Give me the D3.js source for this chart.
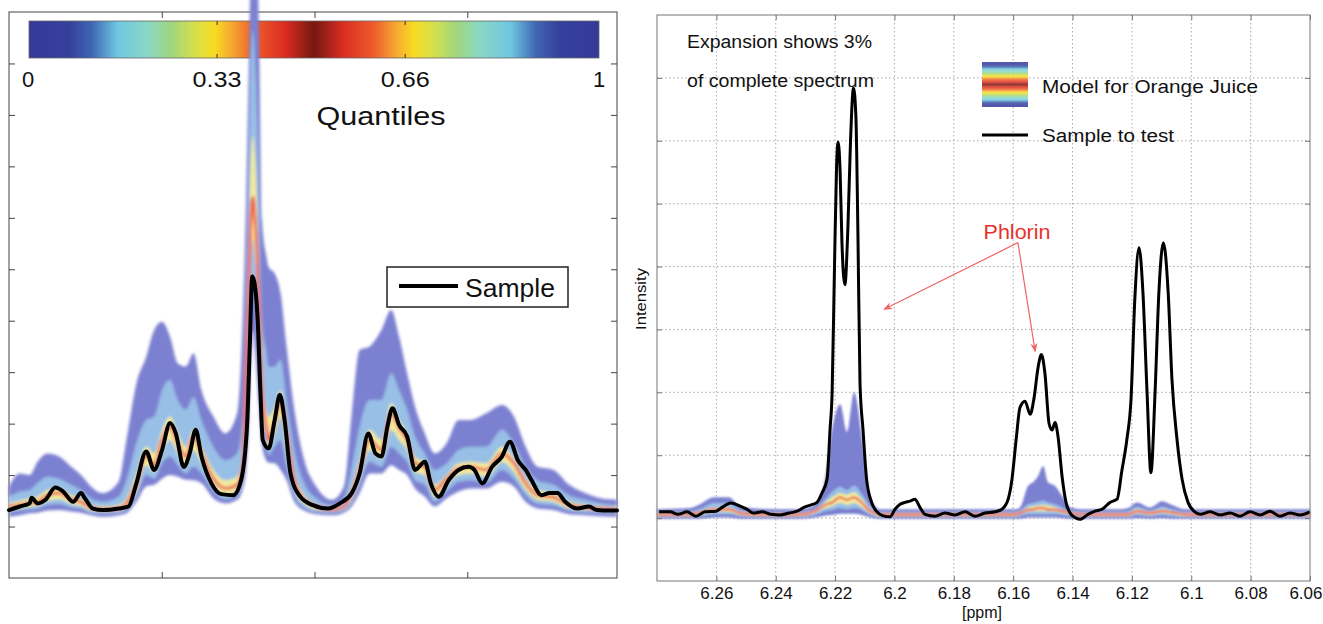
<!DOCTYPE html>
<html>
<head>
<meta charset="utf-8">
<script src="https://cdnjs.cloudflare.com/ajax/libs/d3/7.8.5/d3.min.js"></script>
<style>
html, body { margin: 0; padding: 0; background: #fff; }
svg { display: block; }
text { font-family: "Liberation Sans", Arial, Helvetica, sans-serif; fill: #111; }
</style>
</head>
<body>
<svg id="chart" width="1323" height="624"></svg>
<script>
// ---------- Left panel: spectral region with quantile model ----------
const leftGridX = [0,7,13.5,18.7,25.1,32.9,40.7,47.1,53.6,61.4,71.7,76.9,83.4,89.8,95.0,100.2,105.4,110.5,115.7,120.8,126.0,133.8,141.6,149.3,153.2,155.2,157.1,158.4,159.7,161.0,162.4,163.7,165.6,168.3,170.0,173.9,177.8,181.7,186.8,193.3,201.1,211.4,219.2,224.4,229.5,236.0,243.8,250.2,255.4,260.6,265.8,272.2,278.7,286.5,294.3,302.0,312.4,322.7,330.5,338.2,346.0,356.4,366.7,377.1,387.4,398];
const leftQ100 = [17.8,20.3,20.0,22.6,24.2,23.6,21.6,20.0,17.8,16.5,18.7,26.8,37.8,43.0,48.2,49.8,46.9,41.7,41.1,43.7,36.5,31.4,28.1,32.0,52.1,73.5,100.7,120.1,120.1,120.1,120.1,104.6,69.6,62.8,60.4,59.2,55.3,45.0,32.7,22.9,17.8,15.2,17.8,32.0,44.3,45.0,48.2,52.1,46.9,39.8,33.3,28.1,24.2,26.2,30.7,30.7,32.0,33.6,31.4,25.5,21.6,21.0,18.1,16.5,15.5,15.2];
const leftQ85 = [15.8,16.8,17.1,18.4,19.7,19.3,18.1,17.1,15.5,14.8,15.8,19.0,26.2,30.7,31.4,36.5,38.5,34.6,32.7,35.2,30.7,25.5,22.9,24.2,32.0,56.0,81.2,100.7,106.5,100.7,89.0,71.5,50.1,44.3,41.0,41.1,42.4,34.6,24.9,18.4,15.5,14.2,15.5,21.6,29.4,34.6,34.6,39.8,36.5,32.7,27.5,24.2,21.0,22.3,24.9,25.5,25.5,28.8,26.2,21.6,19.0,18.1,16.1,15.2,14.5,14.2];
const leftQ70 = [14.5,15.0,15.5,15.8,17.1,17.4,16.1,15.5,14.2,13.9,14.2,15.5,20.3,25.5,24.2,28.8,31.4,28.1,25.5,28.8,25.5,21.0,19.0,19.7,24.2,46.3,66.0,82.0,86.0,82.0,72.0,57.9,40.4,32.7,31.3,33.3,36.5,29.4,20.3,16.1,14.3,13.5,14.2,17.8,22.9,28.8,26.8,34.0,30.7,28.1,23.6,22.3,18.1,20.0,22.3,22.6,22.3,25.5,23.2,19.3,17.1,16.5,14.8,14.2,13.9,13.7];
const leftQ50 = [13.9,14.2,14.6,14.8,16.1,16.5,15.3,14.8,13.7,13.3,13.5,14.5,18.4,23.9,21.9,26.8,29.4,26.2,23.6,27.5,24.2,19.3,17.4,18.1,22.3,40.4,58.0,70.0,74.0,70.0,63.0,52.1,36.5,29.7,26.8,30.4,34.6,28.1,19.0,15.2,13.9,13.3,13.9,16.5,21.0,26.8,24.9,32.0,29.1,26.8,22.3,21.6,17.1,19.3,21.3,21.6,21.0,24.2,22.3,18.4,16.1,15.7,14.2,13.7,13.5,13.3];
const leftQ30 = [13.2,13.5,13.9,14.0,15.0,15.3,14.4,14.0,13.1,12.9,13.1,13.9,16.8,21.9,20.6,24.5,26.8,24.2,21.9,24.9,22.3,18.1,16.1,17.1,20.3,34.6,52.0,62.0,66.0,62.0,57.0,46.3,32.7,27.8,25.3,28.1,31.4,24.9,17.4,14.4,13.3,13.0,13.5,15.5,19.3,24.9,23.2,28.8,26.8,24.9,20.6,20.0,15.8,18.1,20.0,20.3,19.7,22.6,20.6,17.1,15.2,14.8,13.5,13.2,13.1,13.0];
const leftQ15 = [12.7,13.1,13.3,13.5,14.2,14.4,13.7,13.5,12.7,12.6,12.7,13.3,15.8,20.0,19.3,22.3,23.6,21.9,20.3,21.6,20.3,16.8,15.3,16.1,19.0,28.8,44.3,55.0,58.0,55.0,50.0,40.4,29.7,25.9,23.9,25.5,26.8,21.6,16.1,13.7,12.9,12.7,13.1,14.6,18.1,22.6,21.6,25.5,24.2,22.6,19.0,18.1,14.8,16.8,18.7,19.0,18.5,21.0,19.3,16.1,14.4,14.1,13.1,12.8,12.7,12.6];
const leftQ0 = [11.9,12.2,12.6,12.7,13.1,13.2,12.9,12.7,12.2,11.9,12.2,12.6,14.8,17.8,18.1,19.3,20.0,19.7,19.1,19.0,18.4,15.5,14.5,15.2,17.4,21.0,30.7,42.4,48.2,44.3,38.5,32.7,25.9,22.9,22.4,22.3,21.0,19.0,14.8,13.1,12.4,12.2,12.7,13.9,16.5,20.3,20.3,21.9,21.0,20.0,17.4,15.8,13.9,15.5,16.8,17.4,17.4,18.7,17.8,14.8,13.5,13.2,12.4,12.2,12.0,11.9];

const leftSampleX = [0,7.0,13.5,14.8,18.7,23.9,30.3,35.5,42.0,47.1,49.7,54.9,61.4,71.7,78.2,83.4,89.8,95.0,100.2,105.4,109.2,114.4,118.3,122.2,126.0,132.5,139.0,146.8,151.9,155.8,157.6,159.2,160.6,162.8,164.6,166.1,170.0,173.9,177.3,180.4,184.3,190.7,198.5,208.8,216.6,224.4,229.5,235.2,239.9,243.8,247.7,251.0,255.4,260.6,265.8,272.2,276.1,281.3,287.8,294.3,300.7,304.6,309.8,316.2,322.7,327.9,333.1,338.2,342.1,348.6,353.8,359.0,364.1,371.9,379.7,384.8,392.6,398];
const leftSampleY = [13.2,13.9,14.5,15.6,14.5,15.2,17.6,16.8,14.8,16.5,15.5,13.5,13.2,13.5,13.9,18.4,24.6,21.0,24.9,30.1,28.1,21.6,24.2,28.8,23.6,18.4,16.3,16.1,19.0,29.4,45.0,58.6,57.5,50.1,36.0,26.8,25.2,30.7,35.6,30.7,20.3,15.8,14.2,13.5,14.5,16.5,20.3,28.1,24.2,23.6,29.4,33.0,29.7,27.5,21.0,22.6,18.4,15.8,19.0,21.0,21.6,21.0,18.4,21.6,23.6,26.5,22.9,21.0,19.0,16.1,16.5,16.5,14.8,13.5,13.9,13.2,13.1,13.1];

const leftXTicks = [100, 200, 300];
const leftYTicks = [10, 20, 30, 40, 50, 60, 70, 80, 90, 100];

// Quantile colour scale (symmetric jet)
const colorbarStops  = [0, 0.07, 0.11, 0.155, 0.21, 0.25, 0.29, 0.325, 0.36, 0.395, 0.45, 0.5, 0.55, 0.605, 0.64, 0.675, 0.71, 0.75, 0.79, 0.845, 0.89, 0.93, 1];
const colorbarColors = ["#35399a","#35409c","#3f66b2","#6fc6e2","#8ad8c4","#a0d67c","#d4e04c","#f8dc22","#f6a032","#ee5c2a","#da2c22","#741810","#da2c22","#ee5c2a","#f6a032","#f8dc22","#d4e04c","#a0d67c","#8ad8c4","#6fc6e2","#3f66b2","#35409c","#35399a"];
const colorbarTicks = [0, 0.33, 0.66, 1];
const colorbarLabels = ["0", "0.33", "0.66", "1"];

// ---------- Right panel: 3% expansion, 6.28 – 6.06 ppm ----------
const rightPpm = [6.280,6.2689,6.2655,6.2608,6.2557,6.2520,6.2453,6.2318,6.2268,6.2234,6.2210,6.2183,6.2160,6.2136,6.2109,6.2082,6.2049,6.1644,6.1594,6.1577,6.1550,6.1533,6.1516,6.1499,6.1483,6.1459,6.1435,6.1408,6.1358,6.1240,6.1213,6.1183,6.1139,6.1098,6.1065,6.1021,6.0903,6.060];
const rightQ100 = [0.14,0.16,0.22,0.33,0.33,0.18,0.15,0.14,0.21,0.62,1.41,1.81,1.37,2.00,1.25,0.33,0.14,0.14,0.14,0.17,0.51,0.57,0.67,0.83,0.57,0.51,0.35,0.17,0.14,0.14,0.16,0.25,0.17,0.27,0.21,0.14,0.14,0.14];
const rightQ85 = [0.10,0.11,0.15,0.24,0.24,0.13,0.10,0.10,0.15,0.30,0.42,0.50,0.45,0.52,0.38,0.19,0.10,0.10,0.10,0.12,0.22,0.24,0.26,0.28,0.25,0.22,0.17,0.12,0.10,0.10,0.11,0.18,0.12,0.18,0.14,0.10,0.10,0.10];
const rightQ70 = [0.08,0.08,0.11,0.17,0.17,0.10,0.08,0.08,0.13,0.25,0.33,0.40,0.37,0.41,0.30,0.14,0.08,0.08,0.08,0.10,0.17,0.19,0.20,0.21,0.20,0.17,0.13,0.10,0.08,0.08,0.08,0.14,0.10,0.14,0.11,0.08,0.08,0.08];
const rightQ50 = [0.06,0.06,0.09,0.14,0.14,0.08,0.06,0.06,0.11,0.21,0.25,0.33,0.29,0.33,0.24,0.11,0.06,0.06,0.06,0.08,0.13,0.14,0.16,0.16,0.14,0.13,0.11,0.08,0.06,0.06,0.06,0.11,0.08,0.11,0.09,0.06,0.06,0.06];
const rightQ30 = [0.03,0.03,0.05,0.10,0.10,0.05,0.03,0.03,0.08,0.16,0.19,0.24,0.21,0.24,0.17,0.08,0.03,0.03,0.03,0.06,0.10,0.11,0.11,0.11,0.11,0.10,0.08,0.06,0.03,0.03,0.03,0.08,0.05,0.08,0.06,0.03,0.03,0.03];
const rightQ15 = [0.02,0.02,0.03,0.06,0.06,0.03,0.02,0.02,0.05,0.11,0.13,0.16,0.14,0.16,0.13,0.05,0.02,0.02,0.02,0.03,0.06,0.06,0.06,0.06,0.06,0.06,0.05,0.03,0.02,0.02,0.02,0.05,0.03,0.05,0.03,0.02,0.02,0.02];
const rightQ0 = [0,0,0,0.02,0.02,0,0,0,0.02,0.05,0.06,0.08,0.08,0.08,0.06,0.02,0,0,0,0,0.02,0.02,0.02,0.02,0.02,0.02,0.01,0,0,0,0,0.01,0,0.01,0,0,0,0];

const samplePpm = [6.2793,6.2756,6.2729,6.2699,6.2669,6.2638,6.2601,6.2581,6.2551,6.2520,6.2497,6.2477,6.2446,6.2416,6.2386,6.2355,6.2328,6.2305,6.2281,6.2261,6.2244,6.2227,6.2217,6.2210,6.2202,6.2195,6.2190,6.2183,6.2177,6.2167,6.2157,6.2148,6.2138,6.2130,6.2123,6.2116,6.2106,6.2094,6.2077,6.2061,6.2040,6.2015,6.1998,6.1981,6.1964,6.1948,6.1931,6.1914,6.1897,6.1863,6.1830,6.1796,6.1762,6.1729,6.1695,6.1661,6.1638,6.1617,6.1604,6.1590,6.1577,6.1560,6.1543,6.1530,6.1516,6.1505,6.1493,6.1479,6.1469,6.1459,6.1449,6.1435,6.1422,6.1405,6.1388,6.1375,6.1348,6.1324,6.1301,6.1274,6.1250,6.1234,6.1217,6.1203,6.1190,6.1176,6.1163,6.1149,6.1136,6.1122,6.1109,6.1094,6.1078,6.1065,6.1048,6.1031,6.1011,6.0988,6.0970,6.0937,6.0903,6.0869,6.0836,6.0802,6.0768,6.0735,6.0701,6.0667,6.0634,6.0600];
const sampleIntensity = [0.10,0.10,0.06,0.10,0.03,0.10,0.11,0.17,0.24,0.19,0.14,0.08,0.10,0.06,0.05,0.08,0.11,0.17,0.21,0.25,0.40,0.62,1.41,2.00,4.00,5.60,5.98,5.50,4.40,3.71,4.60,6.00,6.84,6.40,4.50,2.13,1.41,0.62,0.25,0.11,0.04,0.02,0.14,0.22,0.25,0.27,0.30,0.17,0.06,0.03,0.08,0.05,0.10,0.03,0.08,0.10,0.14,0.30,0.62,1.25,1.76,1.86,1.65,1.90,2.40,2.60,2.30,1.50,1.40,1.52,1.30,0.65,0.25,0.06,0.00,-0.02,0.06,0.11,0.14,0.25,0.30,0.75,1.25,1.89,3.50,4.30,3.60,2.00,0.72,2.00,3.60,4.38,3.60,2.20,1.25,0.62,0.25,0.10,0.06,0.10,0.05,0.08,0.03,0.10,0.05,0.11,0.03,0.08,0.05,0.10];

const ppmTicks = [6.26, 6.24, 6.22, 6.2, 6.18, 6.16, 6.14, 6.12, 6.1, 6.08, 6.06];
const ppmTickLabels = ["6.26","6.24","6.22","6.2","6.18","6.16","6.14","6.12","6.1","6.08","6.06"];
const intensityTicks = [0, 1, 2, 3, 4, 5, 6, 7];

// Phlorin annotation: label anchor and arrow heads (ppm, intensity)
const phlorinLabel = [6.1587, 4.44];
const phlorinTail = [6.1584, 4.38];
const phlorinHeads = [[6.2035, 3.32], [6.1526, 2.65]];

// Band styling: outer envelope, 15–85 %, 30–70 %, median line
const bandFills = ["#7c80d0", "#98bfe6", "#f2ea9a"];
const medianColor = "#ee6656";

// ===================================================================
const svg = d3.select("#chart");
const defs = svg.append("defs");

function addGradient(id, vertical) {
  const g = defs.append("linearGradient").attr("id", id)
    .attr("x1", 0).attr("y1", 0)
    .attr("x2", vertical ? 0 : 1).attr("y2", vertical ? 1 : 0);
  colorbarStops.forEach((t, i) =>
    g.append("stop").attr("offset", t).attr("stop-color", colorbarColors[i]));
}
addGradient("jetH", false);
addGradient("jetV", true);

defs.append("filter").attr("id", "softL")
  .attr("x", "-5%").attr("y", "-5%").attr("width", "110%").attr("height", "110%")
  .append("feGaussianBlur").attr("stdDeviation", 1.5);
defs.append("filter").attr("id", "softR")
  .attr("x", "-5%").attr("y", "-20%").attr("width", "110%").attr("height", "140%")
  .append("feGaussianBlur").attr("stdDeviation", 0.8);

defs.append("marker").attr("id", "arrowRed")
  .attr("viewBox", "0 0 10 10").attr("refX", 9).attr("refY", 5)
  .attr("markerWidth", 9).attr("markerHeight", 9).attr("markerUnits", "userSpaceOnUse")
  .attr("orient", "auto")
  .append("path").attr("d", "M0,1 L10,5 L0,9 L3,5 Z").attr("fill", "#f06464");

function rows(xs, cols) {
  return xs.map((x, i) => ({
    x, q0: cols[0][i], q15: cols[1][i], q30: cols[2][i], q50: cols[3][i],
    q70: cols[4][i], q85: cols[5][i], q100: cols[6][i]
  }));
}

function styleAxis(g, color) {
  g.select(".domain").remove();
  g.selectAll(".tick line").attr("stroke", color);
}

// ------------------------------ LEFT ------------------------------
const lx = d3.scaleLinear().domain([0, 398]).range([9, 617]);
const ly = d3.scaleLinear().domain([0, 110]).range([578, 12]);
const left = svg.append("g");

left.append("rect")
  .attr("x", lx(0)).attr("y", ly(110))
  .attr("width", lx(398) - lx(0)).attr("height", ly(0) - ly(110))
  .attr("fill", "#fff").attr("stroke", "#444").attr("stroke-width", 1);

left.append("g").attr("transform", `translate(${lx(0)},0)`)
  .call(d3.axisLeft(ly).tickValues(leftYTicks).tickSize(-6).tickFormat(""))
  .call(g => styleAxis(g, "#444"));
left.append("g").attr("transform", `translate(${lx(398)},0)`)
  .call(d3.axisRight(ly).tickValues(leftYTicks).tickSize(-6).tickFormat(""))
  .call(g => styleAxis(g, "#444"));
left.append("g").attr("transform", `translate(0,${ly(0)})`)
  .call(d3.axisBottom(lx).tickValues(leftXTicks).tickSize(-6).tickFormat(""))
  .call(g => styleAxis(g, "#444"));
left.append("g").attr("transform", `translate(0,${ly(110)})`)
  .call(d3.axisTop(lx).tickValues(leftXTicks).tickSize(-6).tickFormat(""))
  .call(g => styleAxis(g, "#444"));

// colour bar
const cb = d3.scaleLinear().domain([0, 1]).range([29, 599]);
left.append("rect").attr("x", cb(0)).attr("y", 21)
  .attr("width", cb(1) - cb(0)).attr("height", 37)
  .attr("fill", "url(#jetH)").attr("stroke", "#666").attr("stroke-width", 0.8);
colorbarTicks.slice(1, 3).forEach(t => {
  left.append("line").attr("x1", cb(t)).attr("x2", cb(t)).attr("y1", 21).attr("y2", 25).attr("stroke", "#333");
  left.append("line").attr("x1", cb(t)).attr("x2", cb(t)).attr("y1", 54).attr("y2", 58).attr("stroke", "#333");
});
colorbarTicks.forEach((t, i) => {
  const txt = left.append("text").attr("x", cb(t) - (i === 0 ? 1 : 0)).attr("y", 87)
    .attr("text-anchor", "middle").attr("font-size", 22).text(colorbarLabels[i]);
  if (colorbarLabels[i].length > 1) txt.attr("textLength", 49).attr("lengthAdjust", "spacingAndGlyphs");
});
left.append("text").attr("x", 381).attr("y", 125).attr("text-anchor", "middle")
  .attr("font-size", 25).attr("textLength", 129).attr("lengthAdjust", "spacingAndGlyphs")
  .text("Quantiles");

// quantile bands
const leftRows = rows(leftGridX, [leftQ0, leftQ15, leftQ30, leftQ50, leftQ70, leftQ85, leftQ100]);
const leftBands = left.append("g").attr("filter", "url(#softL)");
[["q0", "q100"], ["q15", "q85"], ["q30", "q70"]].forEach(([lo, hi], i) => {
  leftBands.append("path").datum(leftRows)
    .attr("fill", bandFills[i])
    .attr("d", d3.area().x(d => lx(d.x)).y0(d => ly(d[lo])).y1(d => ly(d[hi])).curve(d3.curveMonotoneX));
});
leftBands.append("path").datum(leftRows)
  .attr("fill", "none").attr("stroke", medianColor).attr("stroke-width", 3)
  .attr("d", d3.line().x(d => lx(d.x)).y(d => ly(d.q50)).curve(d3.curveMonotoneX));

// sample spectrum
left.append("path").datum(leftSampleX.map((x, i) => [x, leftSampleY[i]]))
  .attr("fill", "none").attr("stroke", "#000").attr("stroke-width", 4)
  .attr("stroke-linejoin", "round").attr("stroke-linecap", "round")
  .attr("d", d3.line().x(d => lx(d[0])).y(d => ly(d[1])).curve(d3.curveMonotoneX));

// legend
const lleg = left.append("g");
lleg.append("rect").attr("x", 387).attr("y", 267).attr("width", 181).attr("height", 40)
  .attr("fill", "#fff").attr("stroke", "#222").attr("stroke-width", 1.5);
lleg.append("line").attr("x1", 399).attr("x2", 458).attr("y1", 286).attr("y2", 286)
  .attr("stroke", "#000").attr("stroke-width", 4);
lleg.append("text").attr("x", 465).attr("y", 297).attr("font-size", 25)
  .attr("textLength", 90).attr("lengthAdjust", "spacingAndGlyphs").text("Sample");

// ------------------------------ RIGHT ------------------------------
const rx = d3.scaleLinear().domain([6.28, 6.06]).range([657, 1310]);
const ry = d3.scaleLinear().domain([-1, 8]).range([581, 15]);
const right = svg.append("g");

right.append("rect").attr("x", rx(6.28)).attr("y", ry(8))
  .attr("width", rx(6.06) - rx(6.28)).attr("height", ry(-1) - ry(8))
  .attr("fill", "#fff");

// dotted grid
right.append("g").selectAll("line").data(ppmTicks.slice(0, -1)).join("line")
  .attr("x1", d => rx(d)).attr("x2", d => rx(d)).attr("y1", ry(8)).attr("y2", ry(-1))
  .attr("stroke", "#a9a9a9").attr("stroke-dasharray", "1.5,2.5");
right.append("g").selectAll("line").data(intensityTicks).join("line")
  .attr("x1", rx(6.28)).attr("x2", rx(6.06)).attr("y1", d => ry(d)).attr("y2", d => ry(d))
  .attr("stroke", "#a9a9a9").attr("stroke-dasharray", "1.5,2.5");

// quantile bands
const rightRows = rows(rightPpm, [rightQ0, rightQ15, rightQ30, rightQ50, rightQ70, rightQ85, rightQ100]);
const rightBands = right.append("g").attr("filter", "url(#softR)");
[["q0", "q100"], ["q15", "q85"], ["q30", "q70"]].forEach(([lo, hi], i) => {
  rightBands.append("path").datum(rightRows)
    .attr("fill", bandFills[i])
    .attr("d", d3.area().x(d => rx(d.x)).y0(d => ry(d[lo])).y1(d => ry(d[hi])).curve(d3.curveMonotoneX));
});
rightBands.append("path").datum(rightRows)
  .attr("fill", "none").attr("stroke", medianColor).attr("stroke-width", 2.2)
  .attr("d", d3.line().x(d => rx(d.x)).y(d => ry(d.q50)).curve(d3.curveMonotoneX));
rightBands.append("path").datum(rightRows)
  .attr("fill", "none").attr("stroke", "#5a64c8").attr("stroke-width", 1)
  .attr("d", d3.line().x(d => rx(d.x)).y(d => ry(d.q0)).curve(d3.curveMonotoneX));

// sample to test
right.append("path").datum(samplePpm.map((p, i) => [p, sampleIntensity[i]]))
  .attr("fill", "none").attr("stroke", "#000").attr("stroke-width", 3)
  .attr("stroke-linejoin", "round")
  .attr("d", d3.line().x(d => rx(d[0])).y(d => ry(d[1])).curve(d3.curveMonotoneX));

// frame and ticks
right.append("rect").attr("x", rx(6.28)).attr("y", ry(8))
  .attr("width", rx(6.06) - rx(6.28)).attr("height", ry(-1) - ry(8))
  .attr("fill", "none").attr("stroke", "#777").attr("stroke-width", 1);

const xAxisB = right.append("g").attr("transform", `translate(0,${ry(-1)})`)
  .call(d3.axisBottom(rx).tickValues(ppmTicks).tickSize(-5).tickPadding(6)
    .tickFormat((d, i) => ppmTickLabels[i]))
  .call(g => styleAxis(g, "#777"));
xAxisB.selectAll("text").attr("font-size", 17).attr("fill", "#222")
  .style("font-family", '"Liberation Sans", Arial, sans-serif');
// last label sits against the page edge
xAxisB.selectAll(".tick").filter(d => d === 6.06).select("text")
  .attr("text-anchor", "end").attr("x", 12);
right.append("g").attr("transform", `translate(0,${ry(8)})`)
  .call(d3.axisTop(rx).tickValues(ppmTicks).tickSize(-5).tickFormat(""))
  .call(g => styleAxis(g, "#777"));
right.append("g").attr("transform", `translate(${rx(6.28)},0)`)
  .call(d3.axisLeft(ry).tickValues(intensityTicks).tickSize(-5).tickFormat(""))
  .call(g => styleAxis(g, "#777"));
right.append("g").attr("transform", `translate(${rx(6.06)},0)`)
  .call(d3.axisRight(ry).tickValues(intensityTicks).tickSize(-5).tickFormat(""))
  .call(g => styleAxis(g, "#777"));

// axis titles
right.append("text").attr("x", 982).attr("y", 618).attr("text-anchor", "middle")
  .attr("font-size", 16).text("[ppm]");
right.append("text").attr("transform", "translate(646,299) rotate(-90)")
  .attr("text-anchor", "middle").attr("font-size", 14)
  .attr("textLength", 62).attr("lengthAdjust", "spacingAndGlyphs").text("Intensity");

// note in the corner
right.append("text").attr("x", 687).attr("y", 47.5).attr("font-size", 17.5)
  .attr("textLength", 185).attr("lengthAdjust", "spacingAndGlyphs").text("Expansion shows 3%");
right.append("text").attr("x", 687).attr("y", 87).attr("font-size", 17.5)
  .attr("textLength", 187).attr("lengthAdjust", "spacingAndGlyphs").text("of complete spectrum");

// legend
const rleg = right.append("g");
rleg.append("rect").attr("x", 982).attr("y", 62).attr("width", 46).attr("height", 45)
  .attr("fill", "url(#jetV)").attr("opacity", 0.85);
rleg.append("text").attr("x", 1042).attr("y", 93).attr("font-size", 18.5)
  .attr("textLength", 216).attr("lengthAdjust", "spacingAndGlyphs").text("Model for Orange Juice");
rleg.append("line").attr("x1", 982).attr("x2", 1028).attr("y1", 135).attr("y2", 135)
  .attr("stroke", "#000").attr("stroke-width", 3);
rleg.append("text").attr("x", 1042).attr("y", 141.5).attr("font-size", 18)
  .attr("textLength", 132).attr("lengthAdjust", "spacingAndGlyphs").text("Sample to test");

// Phlorin annotation
right.append("text").attr("x", rx(phlorinLabel[0])).attr("y", ry(phlorinLabel[1]))
  .attr("text-anchor", "middle").attr("font-size", 19.5).style("fill", "#e8302a")
  .attr("textLength", 67).attr("lengthAdjust", "spacingAndGlyphs").text("Phlorin");
phlorinHeads.forEach(h => {
  right.append("line")
    .attr("x1", rx(phlorinTail[0])).attr("y1", ry(phlorinTail[1]))
    .attr("x2", rx(h[0])).attr("y2", ry(h[1]))
    .attr("stroke", "#f06464").attr("stroke-width", 1.2)
    .attr("marker-end", "url(#arrowRed)");
});
</script>
</body>
</html>
